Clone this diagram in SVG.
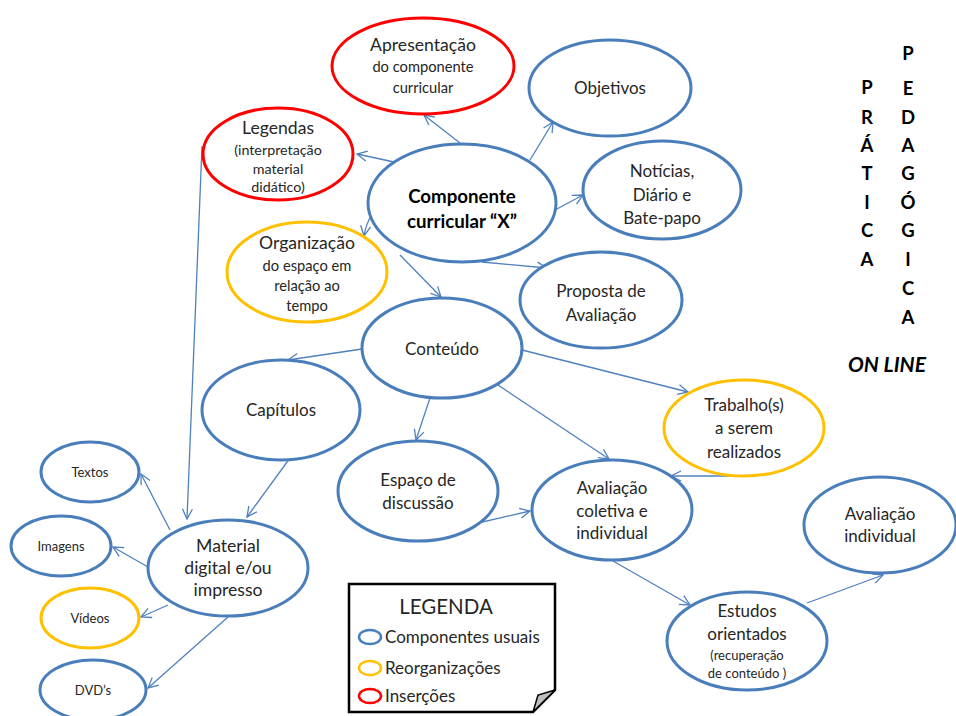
<svg xmlns="http://www.w3.org/2000/svg" width="956" height="716" viewBox="0 0 956 716">
  <defs>
    <marker id="arr" viewBox="0 0 12 12" refX="11" refY="6" markerWidth="12" markerHeight="12" markerUnits="userSpaceOnUse" orient="auto">
      <path d="M1,1 L11,6 L1,11" fill="none" stroke="#4f81bd" stroke-width="1.3"/>
    </marker>
    <style>
      .n { fill: #fff; stroke-width: 3; }
      .blue { stroke: #4a7ebb; }
      .red { stroke: #ff0000; }
      .yel { stroke: #ffc000; }
      text { font-family: Lato, "Liberation Sans", sans-serif; fill: #262626; text-anchor: middle; }
      .t16 { font-size: 17px; }
      .t17 { font-size: 17.6px; }
      .t14 { font-size: 14.7px; }
      .t13 { font-size: 14.3px; }
      .t12 { font-size: 13px; }
      .b { font-weight: bold; font-size: 18.7px; fill: #000; }
      .v { font-weight: bold; font-size: 18.5px; fill: #000; }
      .c line, .c path { stroke: #4f81bd; stroke-width: 1.3; fill: none; marker-end: url(#arr); }
    </style>
  </defs>
  <rect width="956" height="716" fill="#fff"/>

  <!-- connectors -->
  <g id="connectors" class="c">
    <line x1="460" y1="143" x2="424" y2="115"/>
    <line x1="530" y1="160" x2="553" y2="122"/>
    <line x1="394" y1="162" x2="357" y2="154"/>
    <path d="M372,214 Q366,224 364,236"/>
    <line x1="555" y1="210" x2="583" y2="195"/>
    <line x1="482" y1="262" x2="547" y2="268"/>
    <line x1="400" y1="255" x2="441" y2="297"/>
    <line x1="362" y1="349" x2="288" y2="360"/>
    <line x1="522" y1="350" x2="688" y2="392"/>
    <line x1="498" y1="385" x2="609" y2="459"/>
    <line x1="430" y1="398" x2="416" y2="440"/>
    <line x1="290" y1="458" x2="247" y2="517"/>
    <line x1="202" y1="146" x2="187" y2="519"/>
    <line x1="745" y1="476" x2="671" y2="476"/>
    <line x1="478" y1="523" x2="530" y2="511"/>
    <line x1="613" y1="561" x2="690" y2="605"/>
    <line x1="807" y1="603" x2="883" y2="575"/>
    <line x1="170" y1="530" x2="141" y2="474"/>
    <line x1="148" y1="567" x2="113" y2="547"/>
    <line x1="168" y1="605" x2="141" y2="617"/>
    <line x1="228" y1="617" x2="148" y2="688"/>
  </g>

  <g id="apresentacao">
    <ellipse class="n red" cx="423" cy="66" rx="91" ry="48"/>
    <text class="t17" x="423" y="51">Apresentação</text>
    <text class="t14" x="423" y="72">do componente</text>
    <text class="t14" x="423" y="93">curricular</text>
  </g>
  <g id="objetivos">
    <ellipse class="n blue" cx="610" cy="88" rx="81" ry="48"/>
    <text class="t16" x="610" y="94">Objetivos</text>
  </g>
  <g id="legendas">
    <ellipse class="n red" cx="278" cy="154" rx="75" ry="46"/>
    <text class="t17" x="278" y="134">Legendas</text>
    <text class="t13" x="278" y="155">(interpretação</text>
    <text class="t13" x="278" y="174">material</text>
    <text class="t13" x="278" y="192">didático)</text>
  </g>
  <g id="componente">
    <ellipse class="n blue" cx="462" cy="203" rx="94" ry="59"/>
    <text class="b" x="462" y="203">Componente</text>
    <text class="b" x="462" y="228">curricular “X”</text>
  </g>
  <g id="noticias">
    <ellipse class="n blue" cx="662" cy="190" rx="79" ry="49"/>
    <text class="t16" x="662" y="177">Notícias,</text>
    <text class="t16" x="662" y="201">Diário e</text>
    <text class="t16" x="662" y="224">Bate-papo</text>
  </g>
  <g id="organizacao">
    <ellipse class="n yel" cx="307" cy="272" rx="80" ry="50"/>
    <text class="t17" x="307" y="249">Organização</text>
    <text class="t14" x="307" y="271">do espaço em</text>
    <text class="t14" x="307" y="291">relação ao</text>
    <text class="t14" x="307" y="311">tempo</text>
  </g>
  <g id="proposta">
    <ellipse class="n blue" cx="601" cy="300" rx="81" ry="48"/>
    <text class="t16" x="601" y="297">Proposta de</text>
    <text class="t16" x="601" y="321">Avaliação</text>
  </g>
  <g id="conteudo">
    <ellipse class="n blue" cx="442" cy="348" rx="80" ry="50"/>
    <text class="t16" x="442" y="355">Conteúdo</text>
  </g>
  <g id="capitulos">
    <ellipse class="n blue" cx="281" cy="410" rx="79" ry="50"/>
    <text class="t16" x="281" y="416">Capítulos</text>
  </g>
  <g id="trabalhos">
    <ellipse class="n yel" cx="744" cy="428" rx="80" ry="48"/>
    <text class="t16" x="744" y="411">Trabalho(s)</text>
    <text class="t16" x="744" y="434">a serem</text>
    <text class="t16" x="744" y="458">realizados</text>
  </g>
  <g id="espaco">
    <ellipse class="n blue" cx="418" cy="491" rx="80" ry="50"/>
    <text class="t16" x="418" y="486">Espaço  de</text>
    <text class="t16" x="418" y="509">discussão</text>
  </g>
  <g id="avaliacao-coletiva">
    <ellipse class="n blue" cx="612" cy="510" rx="80" ry="50"/>
    <text class="t16" x="612" y="494">Avaliação</text>
    <text class="t16" x="612" y="517">coletiva e</text>
    <text class="t16" x="612" y="539">individual</text>
  </g>
  <g id="avaliacao-individual">
    <ellipse class="n blue" cx="880" cy="525" rx="76" ry="48"/>
    <text class="t16" x="880" y="520">Avaliação</text>
    <text class="t16" x="880" y="542">individual</text>
  </g>
  <g id="textos">
    <ellipse class="n blue" cx="90" cy="472" rx="49" ry="30"/>
    <text class="t12" x="90" y="477">Textos</text>
  </g>
  <g id="imagens">
    <ellipse class="n blue" cx="61" cy="546" rx="50" ry="30"/>
    <text class="t12" x="61" y="551">Imagens</text>
  </g>
  <g id="material">
    <ellipse class="n blue" cx="228" cy="568" rx="80" ry="48"/>
    <text class="t17" x="228" y="552">Material</text>
    <text class="t17" x="228" y="574">digital e/ou</text>
    <text class="t17" x="228" y="596">impresso</text>
  </g>
  <g id="videos">
    <ellipse class="n yel" cx="90" cy="618" rx="49" ry="30"/>
    <text class="t12" x="90" y="623">Vídeos</text>
  </g>
  <g id="dvds">
    <ellipse class="n blue" cx="93" cy="690" rx="53" ry="30"/>
    <text class="t12" x="93" y="695">DVD’s</text>
  </g>
  <g id="estudos">
    <ellipse class="n blue" cx="747" cy="641" rx="80" ry="49"/>
    <text class="t16" x="747" y="617">Estudos</text>
    <text class="t16" x="747" y="640">orientados</text>
    <text class="t12" x="747" y="660">(recuperação</text>
    <text class="t12" x="747" y="678">de conteúdo )</text>
  </g>

  <!-- vertical title -->
  <g id="titulo">
    <text class="v" x="867" y="94">P</text>
    <text class="v" x="867" y="124">R</text>
    <text class="v" x="867" y="152">Á</text>
    <text class="v" x="867" y="180">T</text>
    <text class="v" x="867" y="209">I</text>
    <text class="v" x="867" y="237">C</text>
    <text class="v" x="867" y="266">A</text>
    <text class="v" x="908" y="60">P</text>
    <text class="v" x="908" y="95">E</text>
    <text class="v" x="908" y="124">D</text>
    <text class="v" x="908" y="152">A</text>
    <text class="v" x="908" y="180">G</text>
    <text class="v" x="908" y="209">Ó</text>
    <text class="v" x="908" y="237">G</text>
    <text class="v" x="908" y="266">I</text>
    <text class="v" x="908" y="295">C</text>
    <text class="v" x="908" y="324">A</text>
    <text x="887" y="372" style="font-size:21px;font-weight:bold;font-style:italic;fill:#000">ON LINE</text>
  </g>

  <!-- legend card -->
  <g id="legenda">
    <path d="M349,584 H555 V690 L533,712 H349 Z" fill="#fff" stroke="#000" stroke-width="2.5"/>
    <path d="M533,712 L538,695 L555,690 Z" fill="#bfbfbf" stroke="#000" stroke-width="1.5"/>
    <text x="446" y="614" style="font-size:20.5px">LEGENDA</text>
    <ellipse cx="370" cy="637" rx="11" ry="7" fill="none" stroke="#4a7ebb" stroke-width="2.5"/>
    <ellipse cx="370" cy="668" rx="11" ry="7" fill="none" stroke="#ffc000" stroke-width="2.5"/>
    <ellipse cx="370" cy="696" rx="11" ry="7" fill="none" stroke="#ff0000" stroke-width="2.5"/>
    <text x="385" y="643" style="font-size:17px;text-anchor:start">Componentes usuais</text>
    <text x="385" y="674" style="font-size:17px;text-anchor:start">Reorganizações</text>
    <text x="385" y="702" style="font-size:17px;text-anchor:start">Inserções</text>
  </g>
</svg>
